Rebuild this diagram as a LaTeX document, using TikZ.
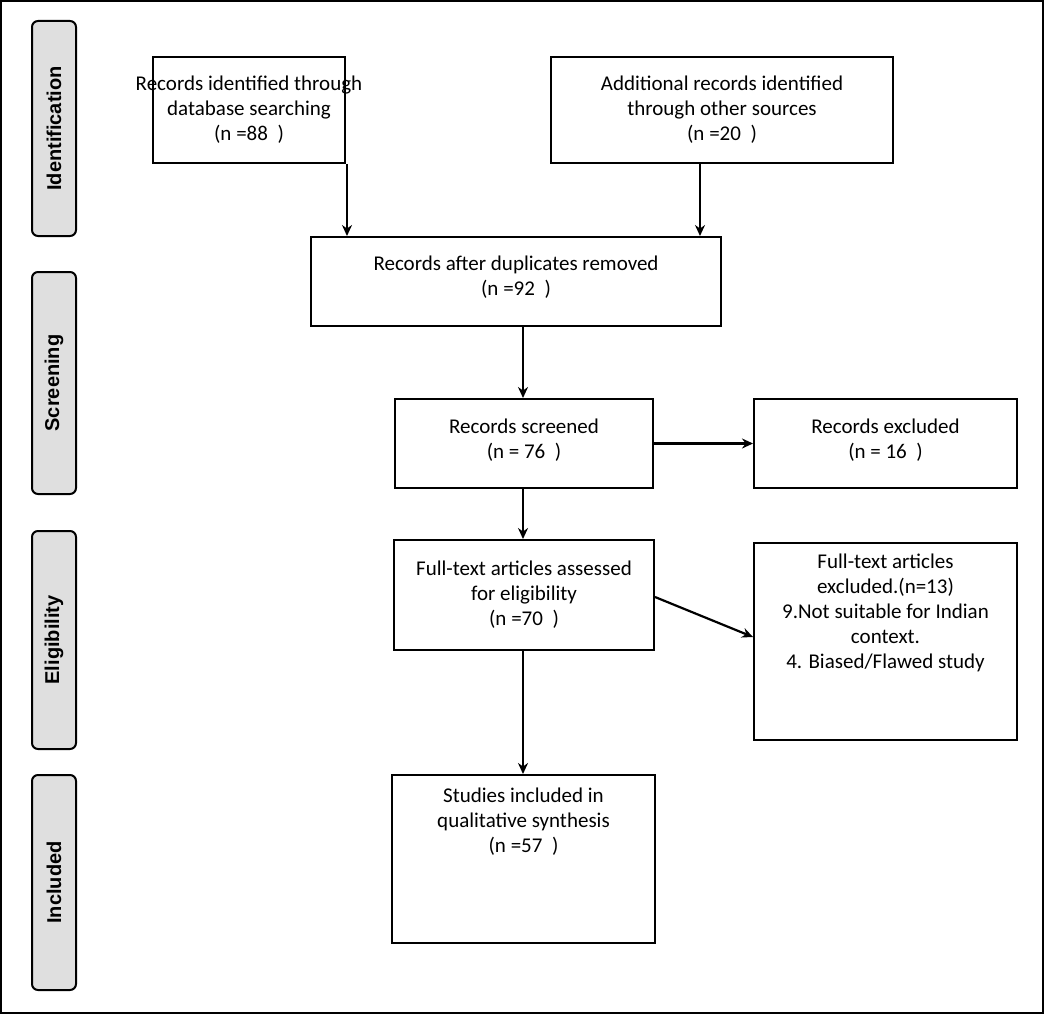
\documentclass[tikz,border=0pt]{standalone}
\usetikzlibrary{arrows.meta}
\usepackage{fontspec}
\setmainfont{Carlito}
\newfontfamily\sidefont{Liberation Sans}
\begin{document}
\begin{tikzpicture}[x=1pt,y=-1pt,
 box/.style={draw,line width=2pt,inner sep=0},
 txt/.style={font=\fontsize{21}{25}\selectfont,align=center},
 side/.style={draw,line width=2pt,fill=gray!25,rounded corners=6pt},
 sidel/.style={rotate=90,font=\sidefont\bfseries\fontsize{20}{22}\selectfont},
 arr/.style={-{Stealth[length=11pt,width=10pt]},line width=2.2pt}]
\useasboundingbox (0,0) rectangle (1044,1014);
\draw[line width=1.5pt] (1,1) rectangle (1043,1013);
\foreach \n/\t/\a/\b in {si/Identification/21/236, ss/Screening/272/494, se/Eligibility/531/749, sn/Included/775/990}{
 \draw[side] (32,\a) rectangle (76,\b);
 \node[sidel] (\n) at (54,{(\a+\b)/2}) {\t};
}
\node[box,minimum width=192,minimum height=106] (a) at (249,110) {};
\node[txt] (at) at (a.center) {Records identified through\\database searching\\(n =88\ \ )};
\node[box,minimum width=342,minimum height=106] (b) at (722,110) {};
\node[txt] (bt) at (b.center) {Additional records identified\\through other sources\\(n =20\ \ )};
\node[box,minimum width=410,minimum height=89] (c) at (516,281.5) {};
\node[txt] (ct) at ([yshift=4]c.center) {Records after duplicates removed\\(n =92\ \ )};
\node[box,minimum width=258,minimum height=89] (d) at (524,443.5) {};
\node[txt] (dt) at ([yshift=3]d.center) {Records screened\\(n = 76\ \ )};
\node[box,minimum width=263,minimum height=89] (e) at (885.5,443.5) {};
\node[txt] (et) at ([yshift=3]e.center) {Records excluded\\(n = 16\ \ )};
\node[box,minimum width=260,minimum height=110] (f) at (524,595) {};
\node[txt] (ft) at (f.center) {Full-text articles assessed\\for eligibility\\(n =70\ \ )};
\node[box,minimum width=263,minimum height=197] (g) at (885.5,641.5) {};
\node[txt,anchor=north] (gt) at ([yshift=-8]g.north) {Full-text articles\\excluded.(n=13)\\9.Not suitable for Indian\\context.\\4. Biased/Flawed study};
\node[box,minimum width=263,minimum height=168] (h) at (523.5,859) {};
\node[txt,anchor=north] (ht) at ([yshift=-10]h.north) {Studies included in\\qualitative synthesis\\(n =57\ \ )};
\draw[arr] ([xshift=98]a.south) -- ([xshift=98]a.south |- c.north);
\draw[arr] ([xshift=-22]b.south) -- ([xshift=-22]b.south |- c.north);
\draw[arr] ([xshift=-1]d.north |- c.south) -- ([xshift=-1]d.north);
\draw[arr] (d.east) -- (e.west);
\draw[arr] ([xshift=-1]d.south) -- ([xshift=-1]f.north);
\draw[arr] ([yshift=-2]f.east) -- ([yshift=4.5]g.west);
\draw[arr] ([xshift=-1]f.south) -- ([xshift=-1]f.south |- h.north);
\end{tikzpicture}
\end{document}
